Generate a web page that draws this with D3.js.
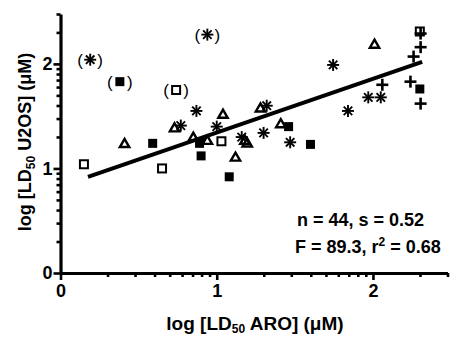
<!DOCTYPE html>
<html>
<head>
<meta charset="utf-8">
<script src="https://cdn.jsdelivr.net/npm/d3@7"></script>
<style>
  body { margin: 0; background: #fff; }
  text { font-family: "Liberation Sans", Arial, sans-serif; }
</style>
</head>
<body>
<div id="chart"></div>
<script>
// log LD50 values: [ARO, U2OS]
const asterisks = [[0.19, 2.04], [0.94, 2.28], [0.87, 1.55], [0.77, 1.41], [1.0, 1.40], [1.32, 1.60],
  [1.16, 1.30], [1.30, 1.34], [1.47, 1.25], [1.745, 1.99], [1.84, 1.55], [1.97, 1.68], [2.05, 1.68]];
const triangles = [[0.41, 1.24], [0.73, 1.39], [0.85, 1.30], [0.94, 1.27], [1.04, 1.52], [1.12, 1.11],
  [1.18, 1.27], [1.195, 1.245], [1.28, 1.58], [1.41, 1.43], [2.01, 2.19]];
const openSquares = [[0.15, 1.04], [0.65, 1.0], [0.74, 1.75], [1.03, 1.26], [2.30, 2.31]];
const filledSquares = [[0.38, 1.83], [0.59, 1.24], [0.89, 1.24], [0.90, 1.12], [1.08, 0.92],
  [1.46, 1.40], [1.60, 1.23], [2.30, 1.76]];
const pluses = [[2.305, 2.29], [2.305, 2.16], [2.26, 2.07], [2.06, 1.80], [2.24, 1.83], [2.305, 1.62]];
// points shown in parentheses (excluded)
const excluded = [asterisks[0], asterisks[1], openSquares[2], filledSquares[0]];

const fitLine = [[0.176, 0.92], [2.315, 2.02]];
const majorTicks = [0, 1, 2];
const axisMax = Math.log10(300);
const stats = ['n = 44, s = 0.52', 'F = 89.3, r'];

const width = 453, height = 337;

const svg = d3.select('#chart').append('svg')
  .attr('width', width)
  .attr('height', height);

const x = d3.scaleLinear().domain([0, axisMax]).range([60.5, 447.5]);
const y = d3.scaleLinear().domain([0, axisMax]).range([273, 14]);

const minorTicks = [];
[0, 1, 2].forEach(k => d3.range(2, 10).forEach(m => {
  const v = k + Math.log10(m);
  if (v <= axisMax + 1e-6) minorTicks.push(v);
}));

// axes
function styleAxis(g) {
  g.select('.domain').attr('stroke-width', 3.2);
  g.selectAll('.tick line').attr('stroke-width', 2.6);
  g.selectAll('.tick text')
    .style('font-size', '18px')
    .style('font-weight', 'bold')
    .attr('fill', '#000');
}

svg.append('g')
  .attr('transform', `translate(0,${y(0)})`)
  .call(d3.axisBottom(x).tickValues(minorTicks).tickSize(4).tickFormat('').tickSizeOuter(0))
  .call(styleAxis);
svg.append('g')
  .attr('transform', `translate(0,${y(0)})`)
  .call(d3.axisBottom(x).tickValues(majorTicks).tickSize(7).tickPadding(4).tickFormat(d3.format('d')).tickSizeOuter(0))
  .call(styleAxis)
  .call(g => g.select('.domain').remove());

svg.append('g')
  .attr('transform', `translate(${x(0)},0)`)
  .call(d3.axisLeft(y).tickValues(minorTicks).tickSize(4).tickFormat('').tickSizeOuter(0))
  .call(styleAxis);
svg.append('g')
  .attr('transform', `translate(${x(0)},0)`)
  .call(d3.axisLeft(y).tickValues(majorTicks).tickSize(7).tickPadding(1).tickFormat(d3.format('d')).tickSizeOuter(0))
  .call(styleAxis)
  .call(g => g.select('.domain').remove());

// axis titles
const xt = svg.append('text')
  .attr('x', 255).attr('y', 330)
  .attr('text-anchor', 'middle')
  .style('font-size', '19px').style('font-weight', 'bold');
xt.append('tspan').text('log [LD');
xt.append('tspan').attr('dy', 3).style('font-size', '12px').text('50');
xt.append('tspan').attr('dy', -3).text(' ARO] (μM)');

const yt = svg.append('text')
  .attr('transform', 'translate(31,142) rotate(-90)')
  .attr('text-anchor', 'middle')
  .style('font-size', '18px').style('font-weight', 'bold');
yt.append('tspan').text('log [LD');
yt.append('tspan').attr('dy', 4).style('font-size', '12px').text('50');
yt.append('tspan').attr('dy', -4).text(' U2OS] (μM)');

// regression line
svg.append('line')
  .attr('x1', x(fitLine[0][0])).attr('y1', y(fitLine[0][1]))
  .attr('x2', x(fitLine[1][0])).attr('y2', y(fitLine[1][1]))
  .attr('stroke', '#000').attr('stroke-width', 4);

// markers
const marks = svg.append('g');

marks.selectAll('.ast').data(asterisks).join('g')
  .attr('transform', d => `translate(${x(d[0])},${y(d[1])})`)
  .selectAll('line').data([0, 45, 90, 135]).join('line')
  .attr('x1', -6).attr('x2', 6).attr('y1', 0).attr('y2', 0)
  .attr('transform', a => `rotate(${a})`)
  .attr('stroke', '#000').attr('stroke-width', 1.9);

const tri = d3.symbol().type(d3.symbolTriangle).size(38);
marks.selectAll('.tri').data(triangles).join('path')
  .attr('d', tri)
  .attr('transform', d => `translate(${x(d[0])},${y(d[1]) + 1})`)
  .attr('fill', 'none')
  .attr('stroke', '#000').attr('stroke-width', 2.4);

marks.selectAll('.osq').data(openSquares).join('rect')
  .attr('x', d => x(d[0]) - 4).attr('y', d => y(d[1]) - 4)
  .attr('width', 8).attr('height', 8)
  .attr('fill', 'none').attr('stroke', '#000').attr('stroke-width', 2);

marks.selectAll('.fsq').data(filledSquares).join('rect')
  .attr('x', d => x(d[0]) - 4.5).attr('y', d => y(d[1]) - 4.5)
  .attr('width', 9).attr('height', 9)
  .attr('fill', '#000');

marks.selectAll('.plus').data(pluses).join('g')
  .attr('transform', d => `translate(${x(d[0])},${y(d[1])})`)
  .selectAll('line').data([0, 90]).join('line')
  .attr('x1', -6).attr('x2', 6).attr('y1', 0).attr('y2', 0)
  .attr('transform', a => `rotate(${a})`)
  .attr('stroke', '#000').attr('stroke-width', 2.6);

// parentheses round excluded points
const paren = marks.selectAll('.paren').data(excluded).join('g')
  .attr('transform', d => `translate(${x(d[0])},${y(d[1])})`);
paren.append('text').attr('x', -10).attr('y', 6).attr('text-anchor', 'middle')
  .style('font-size', '17px').text('(');
paren.append('text').attr('x', 10).attr('y', 6).attr('text-anchor', 'middle')
  .style('font-size', '17px').text(')');

// statistics
svg.append('text')
  .attr('x', 297).attr('y', 226)
  .style('font-size', '18px').style('font-weight', 'bold')
  .text(stats[0]);
const st = svg.append('text')
  .attr('x', 295).attr('y', 253)
  .style('font-size', '18px').style('font-weight', 'bold');
st.append('tspan').text(stats[1]);
st.append('tspan').attr('dy', -7).style('font-size', '12px').text('2');
st.append('tspan').attr('dy', 7).text(' = 0.68');
</script>
</body>
</html>
